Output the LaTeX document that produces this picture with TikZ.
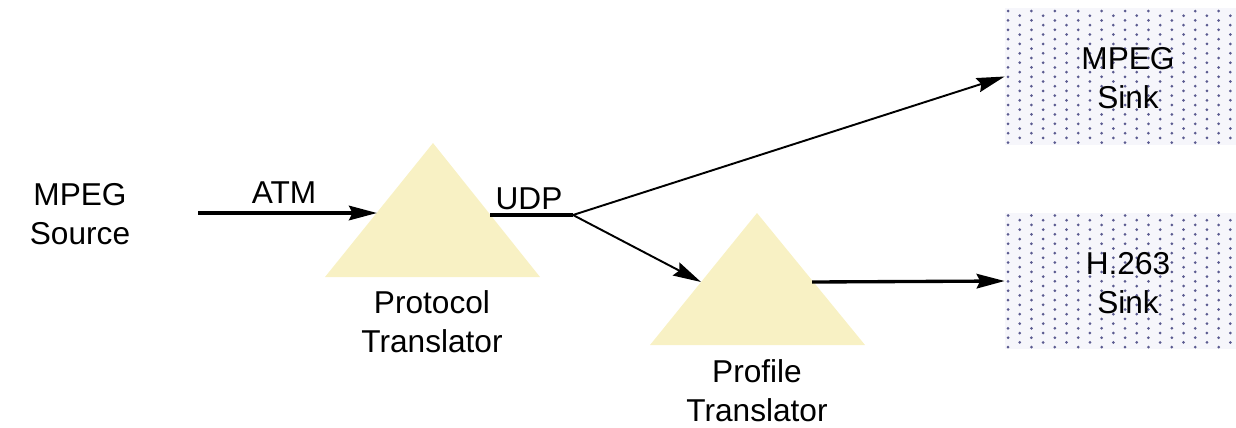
\documentclass[tikz,border=0pt]{standalone}
\usepackage{fontspec}
\setmainfont{Liberation Sans}
\usetikzlibrary{arrows.meta,positioning,calc}
\definecolor{PaleYellow}{HTML}{F8F1C4}
\definecolor{DotNavy}{HTML}{3E3E7C}
\definecolor{SinkBack}{HTML}{F6F6FB}

\begin{document}
\begin{tikzpicture}[x=0.02cm,y=-0.02cm,
  label/.style={align=center,inner sep=0pt,font=\fontsize{18}{22}\selectfont},
  translator/.style={fill=PaleYellow},
  sink/.style={fill=SinkBack,minimum width=4.62cm,minimum height=2.74cm,inner sep=0pt,
    path picture={
      \foreach \i in {0,...,19}{
        \foreach \j in {0,...,15}{
          \pgfmathsetmacro{\dy}{mod(\i,2)*4.7}
          \fill[DotNavy!85] ([shift={(\i*11.7+3,\j*9.4+3+\dy)}]path picture bounding box.north west)
            circle[radius=0.03cm];
        }}}},
  thickarrow/.style={-{Stealth[length=0.56cm,width=0.29cm,inset=0.07cm]},line width=1.9pt},
  thinarrow/.style={-{Stealth[length=0.56cm,width=0.29cm,inset=0.07cm]},line width=1.1pt},
  thickline/.style={line width=1.9pt}]
  \useasboundingbox (0,0) rectangle (1236,427);
  % translators
  \fill[translator] (325,277) -- (433,143) -- (540,277) -- cycle;
  \fill[translator] (650,345) -- (757,213) -- (865,345) -- cycle;
  \coordinate (pt-in) at (377,213);
  \coordinate (pt-out) at (490,215);
  \coordinate (fork) at (573,215);
  \coordinate (pf-in) at (701,282);
  \coordinate (pf-out) at (812,282);
  \coordinate (src-out) at (198,213);
  % sinks
  \node[sink] (mpegsink) at (1120.5,76.5) {};
  \node[sink] (h263sink) at (1120.5,281) {};
  \node[label] (mpegsinklbl) at (1128,78) {MPEG\\Sink};
  \node[label] (h263sinklbl) at (1128,283) {H.263\\Sink};
  % labels
  \node[label] (src) at (80,214) {MPEG\\Source};
  \node[label] (atm) at (284,193) {ATM};
  \node[label] (udp) at (529,199) {UDP};
  \node[label] (ptlbl) at (432,322) {Protocol\\Translator};
  \node[label] (pflbl) at (757,391) {Profile\\Translator};
  % connectors
  \draw[thickarrow] (src-out) -- (pt-in);
  \draw[thickline] (pt-out) -- (fork);
  \draw[thinarrow] (fork) -- (mpegsink.west);
  \draw[thinarrow] (fork) -- (pf-in);
  \draw[thickarrow] (pf-out) -- (h263sink.west);
\end{tikzpicture}
\end{document}
